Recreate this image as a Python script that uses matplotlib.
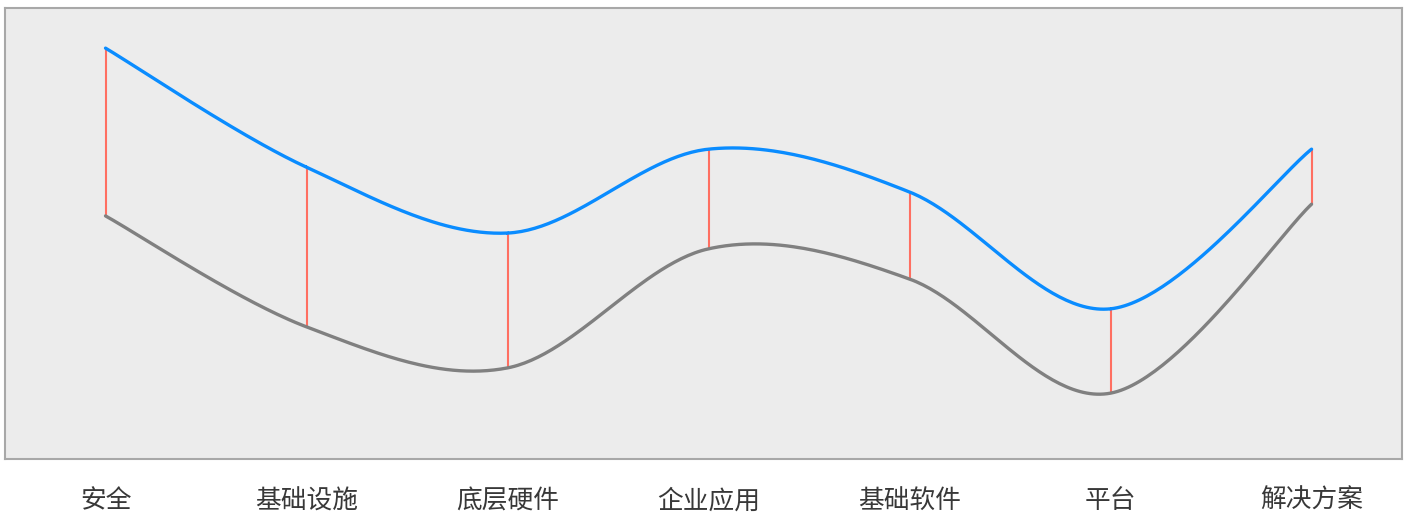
import numpy as np
import matplotlib.pyplot as plt

plt.rcParams['font.family'] = ['Noto Sans CJK SC', 'DejaVu Sans']

categories = ["安全", "基础设施", "底层硬件", "企业应用", "基础软件", "平台", "解决方案"]
upper = [91.1, 64.7, 50.1, 68.7, 59.2, 33.3, 68.7]
lower = [53.9, 29.3, 20.2, 46.6, 39.9, 14.6, 56.5]


def catmull_rom(xs, ys, n=60):
    # courbe lisse passant par tous les points
    xs = np.asarray(xs, dtype=float)
    ys = np.asarray(ys, dtype=float)
    px = np.concatenate([[xs[0]], xs, [xs[-1]]])
    py = np.concatenate([[ys[0]], ys, [ys[-1]]])
    out_x, out_y = [], []
    t = np.linspace(0, 1, n)
    for i in range(1, len(px) - 2):
        for p, out in ((px, out_x), (py, out_y)):
            p0, p1, p2, p3 = p[i - 1], p[i], p[i + 1], p[i + 2]
            seg = 0.5 * (2 * p1 + (-p0 + p2) * t
                         + (2 * p0 - 5 * p1 + 4 * p2 - p3) * t ** 2
                         + (-p0 + 3 * p1 - 3 * p2 + p3) * t ** 3)
            out.extend(seg)
    return np.array(out_x), np.array(out_y)


fig = plt.figure(figsize=(14.04, 5.13), dpi=100)
ax = fig.add_axes([5 / 1404, 54 / 513, 1397 / 1404, 451 / 513])
ax.set_facecolor("#ececec")
for s in ax.spines.values():
    s.set_color("#a8a8a8")
    s.set_linewidth(1.5)

x = np.arange(len(categories))
ax.vlines(x, lower, upper, color="#ff6f61", linewidth=1.5, zorder=2)

ux, uy = catmull_rom(x, upper)
lx, ly = catmull_rom(x, lower)
ax.plot(ux, uy, color="#0a8cff", linewidth=2.4, zorder=3, solid_capstyle="round")
ax.plot(lx, ly, color="#808080", linewidth=2.4, zorder=3, solid_capstyle="round")

ax.set_xlim(-0.5, 6.45)
ax.set_ylim(0, 100)
ax.set_yticks([])
ax.set_xticks(x)
ax.set_xticklabels(categories, fontsize=18.5, color="#383838")
ax.tick_params(axis="x", length=0, pad=21)

fig.savefig("out.png", dpi=100)
